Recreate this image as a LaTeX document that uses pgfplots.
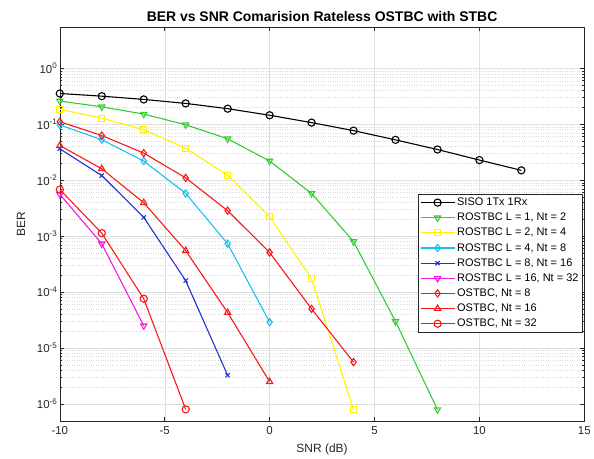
\documentclass[border=0pt]{standalone}
\usepackage{pgfplots}
\pgfplotsset{compat=1.18}
\usepackage{fontspec}
\setmainfont{Liberation Sans}
\definecolor{mgreen}{rgb}{0.2,0.8,0.2}
\definecolor{myellow}{rgb}{1,0.95,0}
\definecolor{mcyan}{rgb}{0.1,0.75,0.95}
\definecolor{mblue}{rgb}{0.12,0.2,0.8}
\definecolor{mmag}{rgb}{0.95,0.1,0.9}
\definecolor{mred}{rgb}{0.97,0.1,0.1}
\definecolor{axgray}{rgb}{0.15,0.15,0.15}
\begin{document}
\begin{tikzpicture}
\begin{axis}[
  scale only axis,
  width=526pt, height=395pt,
  xmin=-10, xmax=15,
  ymode=log, ymin=5e-7, ymax=5.5,
  xtick={-10,-5,0,5,10,15},
  ytick={1e-6,1e-5,1e-4,1e-3,1e-2,1e-1,1},
  log number format basis/.code 2 args={#1\textsuperscript{\pgfmathprintnumber[assume math mode=true]{#2}}},
  /pgf/number format/assume math mode=true,
  tick label style={font=\fontsize{11.5}{13}\selectfont, color=axgray},
  yticklabel style={xshift=1pt},
  xticklabel style={yshift=-2pt},
  label style={font=\fontsize{12}{14}\selectfont, color=axgray},
  title style={font=\bfseries\fontsize{14}{16}\selectfont, yshift=-4pt},
  title={BER vs SNR Comarision Rateless OSTBC with STBC},
  xlabel={SNR (dB)}, ylabel={BER},
  xlabel style={yshift=-3pt},
  ylabel style={yshift=5pt},
  axis line style={axgray, line width=0.5pt},
  tick align=inside, tick style={axgray, line width=0.5pt},
  major tick length=4pt, minor tick length=2pt,
  grid=both,
  major grid style={gray!25, line width=0.4pt},
  minor grid style={gray!30, dotted, line width=0.4pt},
  minor x tick num=0,
  legend style={at={(0.996,0.575)}, anchor=north east, font=\fontsize{11}{12}\selectfont,
    draw=axgray, line width=0.5pt, fill=white, inner sep=1.5pt, row sep=2pt},
  legend cell align=left,
  legend image code/.code={\draw[mark repeat=2,mark phase=2] plot coordinates {(0cm,0cm) (0.6cm,0cm) (1.2cm,0cm)};},
  every axis plot/.append style={line width=1.1pt, mark size=3.6pt, mark options={solid, fill=none}},
]
\addplot[black, mark=o] coordinates {(-10,0.355) (-8,0.318) (-6,0.278) (-4,0.236) (-2,0.19) (0,0.145) (2,0.107) (4,0.077) (6,0.0526) (8,0.0354) (10,0.0229) (12,0.015)};
\addlegendentry{SISO 1Tx 1Rx}
\addplot[mgreen, mark=triangle, mark options={rotate=180}] coordinates {(-10,0.26) (-8,0.205) (-6,0.152) (-4,0.098) (-2,0.055) (0,0.022) (2,0.0058) (4,8.0e-4) (6,3.0e-5) (8,7.9e-7)};
\addlegendentry{ROSTBC L = 1, Nt = 2}
\addplot[myellow, mark=square, mark size=3pt] coordinates {(-10,0.185) (-8,0.129) (-6,0.080) (-4,0.0374) (-2,0.0122) (0,0.00223) (2,1.72e-4) (4,7.9e-7)};
\addlegendentry{ROSTBC L = 2, Nt = 4}
\addplot[mcyan, mark=diamond] coordinates {(-10,0.097) (-8,0.053) (-6,0.022) (-4,0.0058) (-2,7.3e-4) (0,2.9e-5)};
\addlegendentry{ROSTBC L = 4, Nt = 8}
\addplot[mblue, mark=x, mark size=3pt] coordinates {(-10,0.0364) (-8,0.0121) (-6,0.00217) (-4,1.6e-4) (-2,3.25e-6)};
\addlegendentry{ROSTBC L = 8, Nt = 16}
\addplot[mmag, mark=triangle, mark options={rotate=180}] coordinates {(-10,0.0056) (-8,7.3e-4) (-6,2.5e-5)};
\addlegendentry{ROSTBC L = 16, Nt = 32}
\addplot[mred, mark=diamond] coordinates {(-10,0.111) (-8,0.063) (-6,0.0305) (-4,0.011) (-2,0.00285) (0,5.1e-4) (2,5.0e-5) (4,5.6e-6)};
\addlegendentry{OSTBC, Nt = 8}
\addplot[mred, mark=triangle] coordinates {(-10,0.0417) (-8,0.016) (-6,0.00395) (-4,5.5e-4) (-2,4.3e-5) (0,2.5e-6)};
\addlegendentry{OSTBC, Nt = 16}
\addplot[mred, mark=o] coordinates {(-10,0.0068) (-8,0.00113) (-6,7.6e-5) (-4,8e-7)};
\addlegendentry{OSTBC, Nt = 32}
\end{axis}
\useasboundingbox (current axis.south west) ++(-60pt,-37pt) rectangle ([xshift=8pt,yshift=27pt]current axis.north east);
\end{tikzpicture}
\end{document}
